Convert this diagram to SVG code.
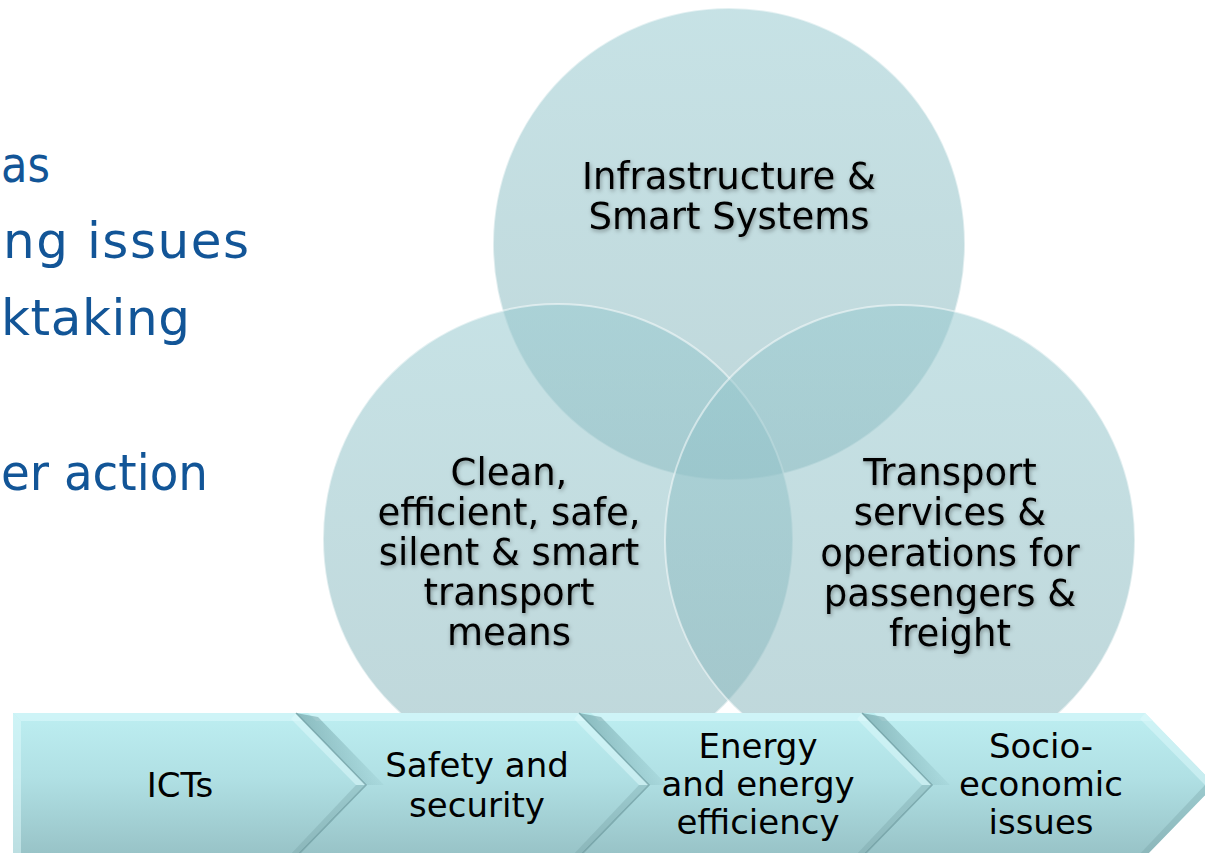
<svg xmlns="http://www.w3.org/2000/svg" width="1205" height="853" viewBox="0 0 1205 853">
<defs>
<linearGradient id="cg" x1="0" y1="0" x2="0" y2="1">
<stop offset="0" stop-color="rgb(152,202,208)"/>
<stop offset="1" stop-color="rgb(138,182,188)"/>
</linearGradient>
<linearGradient id="chg" x1="0" y1="0" x2="0" y2="1">
<stop offset="0" stop-color="#bdeef1"/>
<stop offset="0.45" stop-color="#b0e0e4"/>
<stop offset="1" stop-color="#97c2c6"/>
</linearGradient>
<linearGradient id="notchU" x1="0" y1="0" x2="1" y2="-0.1">
<stop offset="0" stop-color="#5f8f94" stop-opacity="0.55"/>
<stop offset="1" stop-color="#5f8f94" stop-opacity="0"/>
</linearGradient>
<filter id="ts" x="-20%" y="-20%" width="140%" height="160%">
<feDropShadow dx="1" dy="2" stdDeviation="2" flood-color="#000" flood-opacity="0.35"/>
</filter>
</defs>
<style>
.circ{fill:url(#cg);fill-opacity:0.55;stroke:#ffffff;stroke-opacity:0.5;stroke-width:2}
.chev{fill:url(#chg)}
.hl{fill:#d6f7f9;opacity:0.7}
.nu{fill:url(#notchU)}
.nl{fill:none;stroke:#5f8f94;stroke-opacity:0.6;stroke-width:1.5}
.lt{fill:#e0fafb;opacity:0.5}
.dd{fill:#6f9ca0;opacity:0.3}
.t{font-family:"DejaVu Sans",Verdana,sans-serif;fill:#000;text-anchor:middle}
.ct{font-size:37px;filter:url(#ts)}
.bt{font-size:34px}
.lb{font-family:"DejaVu Sans",Verdana,sans-serif;font-size:50px;fill:#125597}
</style>
<rect width="1205" height="853" fill="#ffffff"/>
<g id="left-text">
<text class="lb" x="1" y="182" textLength="49" lengthAdjust="spacingAndGlyphs">as</text>
<text class="lb" x="3" y="258" textLength="246">ng issues</text>
<text class="lb" x="1" y="335" textLength="189">ktaking</text>
<text class="lb" x="1" y="490" textLength="207" lengthAdjust="spacingAndGlyphs">er action</text>
</g>
<g id="circle-infrastructure">
<circle class="circ" cx="729" cy="244" r="236"/>
</g>
<g id="circle-transport-means">
<circle class="circ" cx="558" cy="539" r="235"/>
</g>
<g id="circle-transport-services">
<circle class="circ" cx="900" cy="540" r="235"/>
</g>
<g id="circle-labels">
<text class="t ct" x="729" y="189">Infrastructure &amp;</text>
<text class="t ct" x="729" y="229">Smart Systems</text>
<text class="t ct" x="509" y="485">Clean,</text>
<text class="t ct" x="509" y="525">efficient, safe,</text>
<text class="t ct" x="509" y="565">silent &amp; smart</text>
<text class="t ct" x="509" y="605">transport</text>
<text class="t ct" x="509" y="645">means</text>
<text class="t ct" x="950" y="485">Transport</text>
<text class="t ct" x="950" y="525">services &amp;</text>
<text class="t ct" x="950" y="566">operations for</text>
<text class="t ct" x="950" y="606">passengers &amp;</text>
<text class="t ct" x="950" y="646">freight</text>
</g>
<g id="connectors"></g>
<g id="chevron-icts">
<path class="chev" d="M13,713 H296 L366,785 L296,857 H13 Z"/>
<path class="hl" d="M13,713 H296 L304,721 H21 Z"/>
<path class="lt" d="M13,713 L21,721 V857 H13 Z"/>
<path class="lt" d="M296,713 L366,785 L356,785 L291,719 Z"/>
<path class="dd" d="M366,785 L296,857 L288,857 L356,785 Z"/>
<text class="t bt" x="180" y="797">ICTs</text>
</g>
<g id="chevron-safety">
<path class="chev" d="M296,713 H579 L649,785 L579,857 H296 L366,785 Z"/>
<path class="hl" d="M308,713 H579 L587,721 H316 Z"/>
<path class="nu" d="M296,713 L366,785 L384,785 L318,717 Z"/>
<path class="nl" d="M296,713 L366,785 L296,857"/>
<path class="lt" d="M579,713 L649,785 L639,785 L574,719 Z"/>
<path class="dd" d="M649,785 L579,857 L571,857 L639,785 Z"/>
<text class="t bt" x="477" y="777">Safety and</text>
<text class="t bt" x="477" y="817">security</text>
</g>
<g id="chevron-energy">
<path class="chev" d="M579,713 H862 L932,785 L862,857 H579 L649,785 Z"/>
<path class="hl" d="M591,713 H862 L870,721 H599 Z"/>
<path class="nu" d="M579,713 L649,785 L667,785 L601,717 Z"/>
<path class="nl" d="M579,713 L649,785 L579,857"/>
<path class="lt" d="M862,713 L932,785 L922,785 L857,719 Z"/>
<path class="dd" d="M932,785 L862,857 L854,857 L922,785 Z"/>
<text class="t bt" x="758" y="758">Energy</text>
<text class="t bt" x="758" y="796">and energy</text>
<text class="t bt" x="758" y="834">efficiency</text>
</g>
<g id="chevron-socio">
<path class="chev" d="M862,713 H1145 L1215,785 L1145,857 H862 L932,785 Z"/>
<path class="hl" d="M874,713 H1145 L1153,721 H882 Z"/>
<path class="nu" d="M862,713 L932,785 L950,785 L884,717 Z"/>
<path class="nl" d="M862,713 L932,785 L862,857"/>
<path class="lt" d="M1145,713 L1215,785 L1205,785 L1140,719 Z"/>
<path class="dd" d="M1215,785 L1145,857 L1137,857 L1205,785 Z"/>
<text class="t bt" x="1041" y="758">Socio-</text>
<text class="t bt" x="1041" y="796">economic</text>
<text class="t bt" x="1041" y="834">issues</text>
</g>
</svg>
